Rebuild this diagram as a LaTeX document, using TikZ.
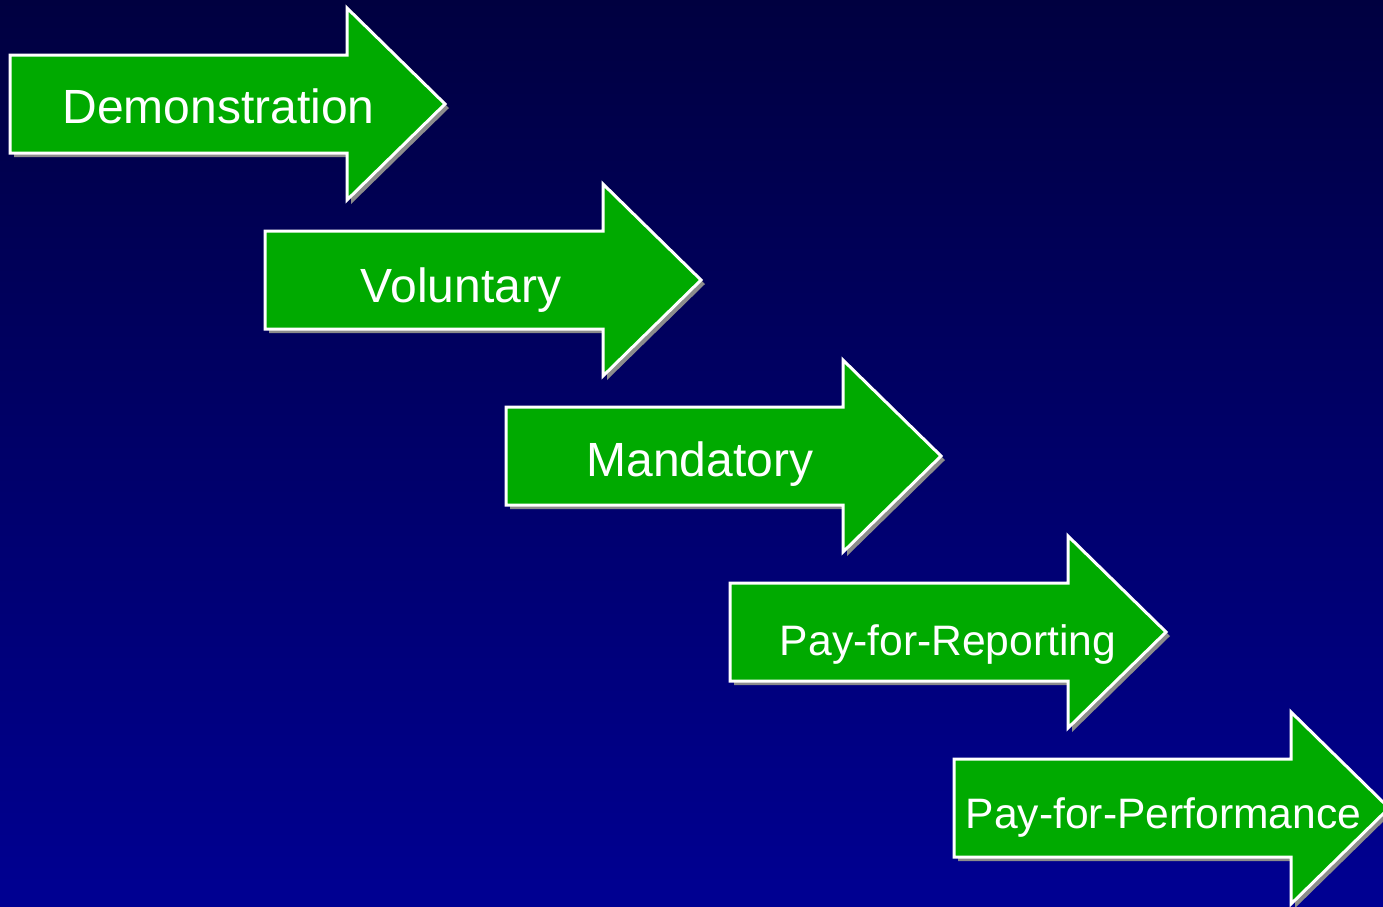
\documentclass[tikz,border=0pt]{standalone}
\usepackage{fontspec}
\setmainfont{Liberation Sans}
\usetikzlibrary{shadows}

\definecolor{navytop}{RGB}{0,0,64}
\definecolor{navybottom}{RGB}{0,0,146}
\definecolor{stagegreen}{RGB}{0,170,0}
\definecolor{shadowgray}{RGB}{140,140,140}

\tikzset{
	stage/.style={draw=white,line width=3pt,fill=stagegreen,line join=miter,
		drop shadow={shadow xshift=4pt,shadow yshift=-4pt,fill=shadowgray,opacity=1}},
	stagelabel/.style={text=white,anchor=base,inner sep=0pt,font=\fontsize{48}{48}\selectfont},
	smalllabel/.style={stagelabel,font=\fontsize{42.6}{42.6}\selectfont}
}

\begin{document}
\begin{tikzpicture}[x=1pt,y=-1pt]
	\useasboundingbox (0,0) rectangle (1383,906);
	\fill[top color=navytop,bottom color=navybottom] (0,0) rectangle (1383,906);
	% the five steps, each one 176 lower
	\draw[stage] (10,55) -- ++(337,0) -- ++(0,-47) -- ++(98,96) -- ++(-98,96) -- ++(0,-47) -- ++(-337,0) -- cycle;
	\draw[stage] (265,231) -- ++(338,0) -- ++(0,-47) -- ++(98,96) -- ++(-98,96) -- ++(0,-47) -- ++(-338,0) -- cycle;
	\draw[stage] (506,407) -- ++(337,0) -- ++(0,-47) -- ++(98,96) -- ++(-98,96) -- ++(0,-47) -- ++(-337,0) -- cycle;
	\draw[stage] (730,583) -- ++(338,0) -- ++(0,-47) -- ++(98,96) -- ++(-98,96) -- ++(0,-47) -- ++(-338,0) -- cycle;
	\draw[stage] (954,759) -- ++(337,0) -- ++(0,-47) -- ++(98,96) -- ++(-98,96) -- ++(0,-47) -- ++(-337,0) -- cycle;
	\path (218.5,123) node[stagelabel] (demo) {Demonstration}
		(461,302) node[stagelabel] (vol) {Voluntary}
		(700,476) node[stagelabel] (mand) {Mandatory}
		(948,655) node[smalllabel] (pfr) {Pay-for-Reporting}
		(1163.5,828) node[smalllabel] (pfp) {Pay-for-Performance};
\end{tikzpicture}
\end{document}
